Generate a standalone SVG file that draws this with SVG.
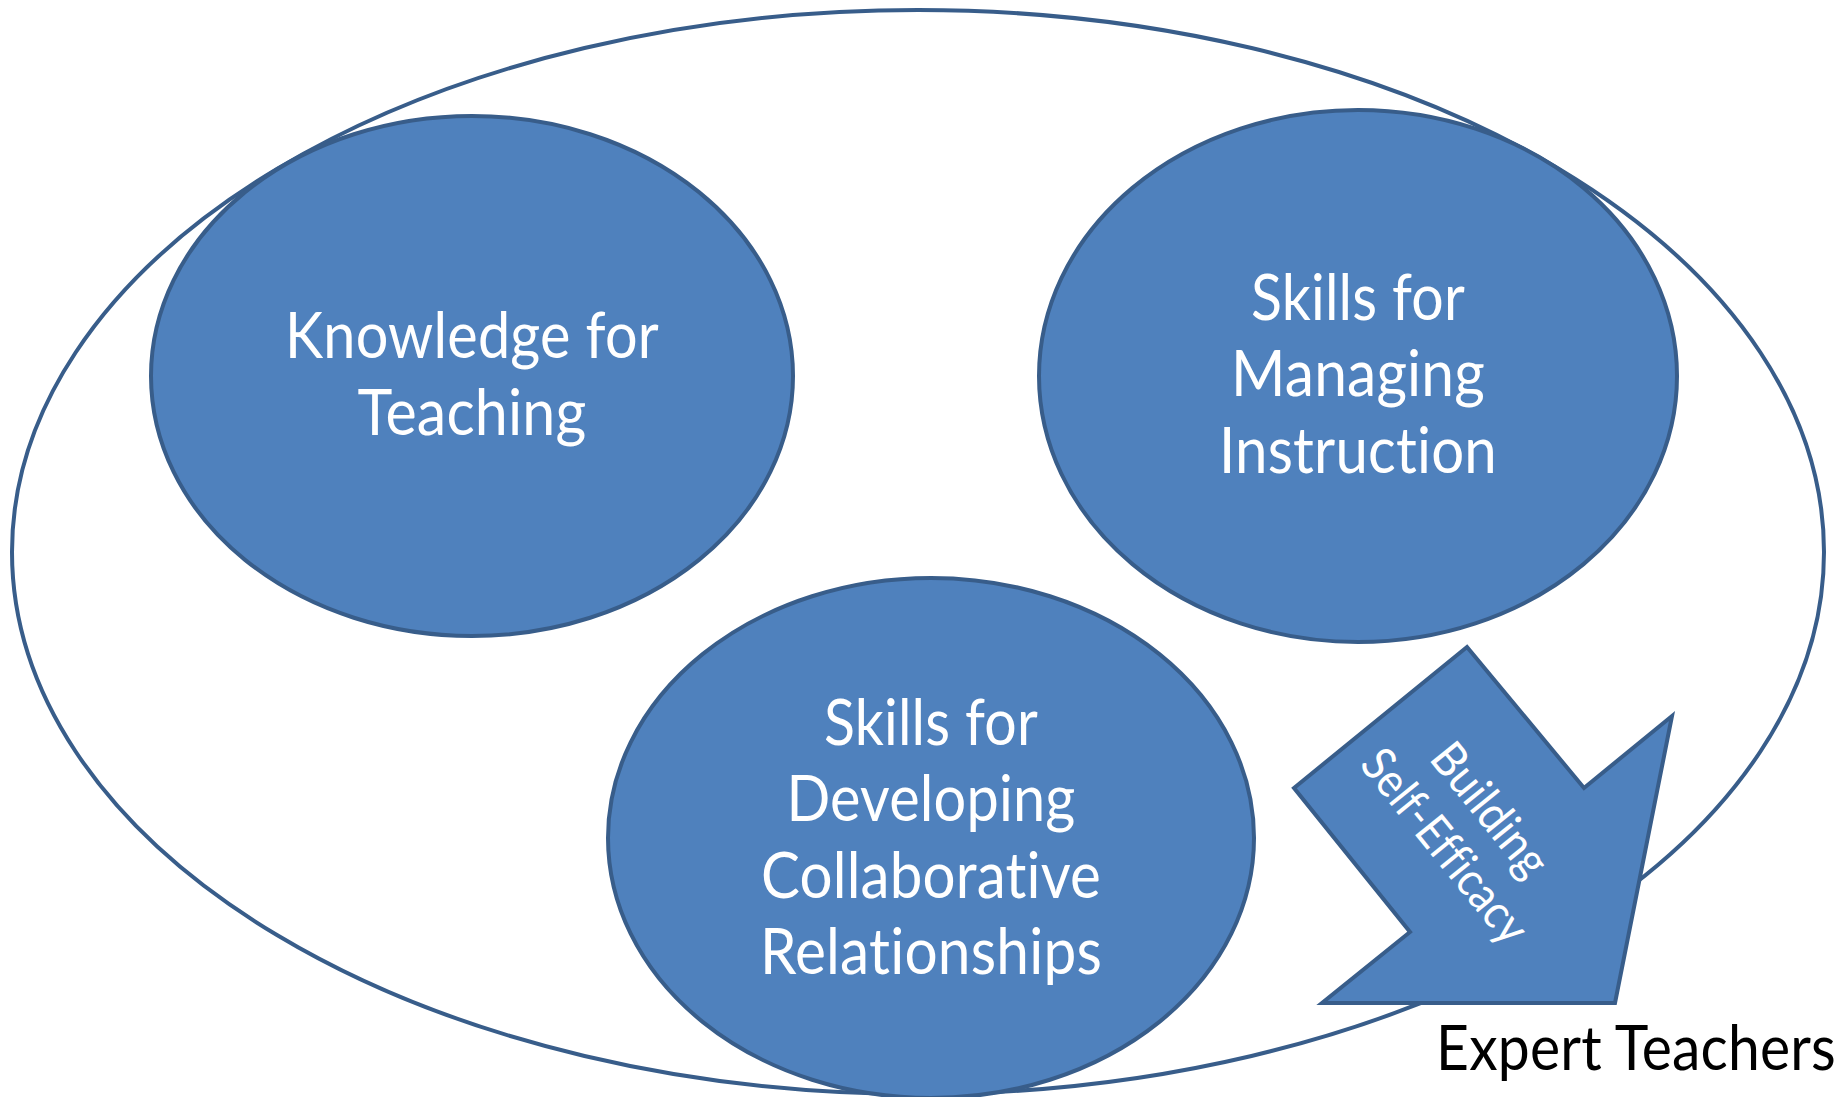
<svg xmlns="http://www.w3.org/2000/svg" width="1848" height="1097" viewBox="0 0 1848 1097">
<style>
.shape{fill:#4F81BD;stroke:#385D8A;stroke-width:4}
.outer{fill:#FFFFFF;stroke:#385D8A;stroke-width:4}
text{font-family:Lato,"Open Sans","Liberation Sans",sans-serif;font-variant-ligatures:none;font-feature-settings:"liga" 0,"clig" 0,"dlig" 0;letter-spacing:0.2px}
.lbl{font-size:63px;fill:#FFFFFF;text-anchor:middle}
.arrowlbl{font-size:48px;fill:#FFFFFF;text-anchor:middle}
.title{font-size:62px;fill:#000000}
</style>
<rect width="1848" height="1097" fill="#FFFFFF"/>
<g id="expert-teachers">
<ellipse class="outer" cx="918" cy="552" rx="906" ry="542"/>
<text class="title" x="1436" y="1070" textLength="400" lengthAdjust="spacingAndGlyphs">Expert Teachers</text>
</g>
<g id="knowledge">
<ellipse class="shape" cx="472" cy="376" rx="321" ry="260"/>
<text class="lbl" x="472" y="358" textLength="374" lengthAdjust="spacingAndGlyphs">Knowledge for</text>
<text class="lbl" x="472" y="435" textLength="229" lengthAdjust="spacingAndGlyphs">Teaching</text>
</g>
<g id="managing">
<ellipse class="shape" cx="1358" cy="376" rx="319" ry="266"/>
<text class="lbl" x="1358" y="320" textLength="214" lengthAdjust="spacingAndGlyphs">Skills for</text>
<text class="lbl" x="1358" y="396" textLength="254" lengthAdjust="spacingAndGlyphs">Managing</text>
<text class="lbl" x="1358" y="473" textLength="278" lengthAdjust="spacingAndGlyphs">Instruction</text>
</g>
<g id="collaborative">
<ellipse class="shape" cx="931" cy="838" rx="323" ry="260"/>
<text class="lbl" x="931" y="745" textLength="214" lengthAdjust="spacingAndGlyphs">Skills for</text>
<text class="lbl" x="931" y="821" textLength="289" lengthAdjust="spacingAndGlyphs">Developing</text>
<text class="lbl" x="931" y="898" textLength="340" lengthAdjust="spacingAndGlyphs">Collaborative</text>
<text class="lbl" x="931" y="974" textLength="342" lengthAdjust="spacingAndGlyphs">Relationships</text>
</g>
<g id="connectors">
<g id="self-efficacy-arrow">
<polygon class="shape" points="1467,647 1584,788 1672,716 1615,1003 1322,1003 1410,932 1294,788"/>
<g transform="translate(1465,830) rotate(51)">
<text class="arrowlbl" x="0" y="-16" textLength="157" lengthAdjust="spacingAndGlyphs">Building</text>
<text class="arrowlbl" x="0" y="42" textLength="235" lengthAdjust="spacingAndGlyphs">Self-Efficacy</text>
</g>
</g>
</g>
</svg>
